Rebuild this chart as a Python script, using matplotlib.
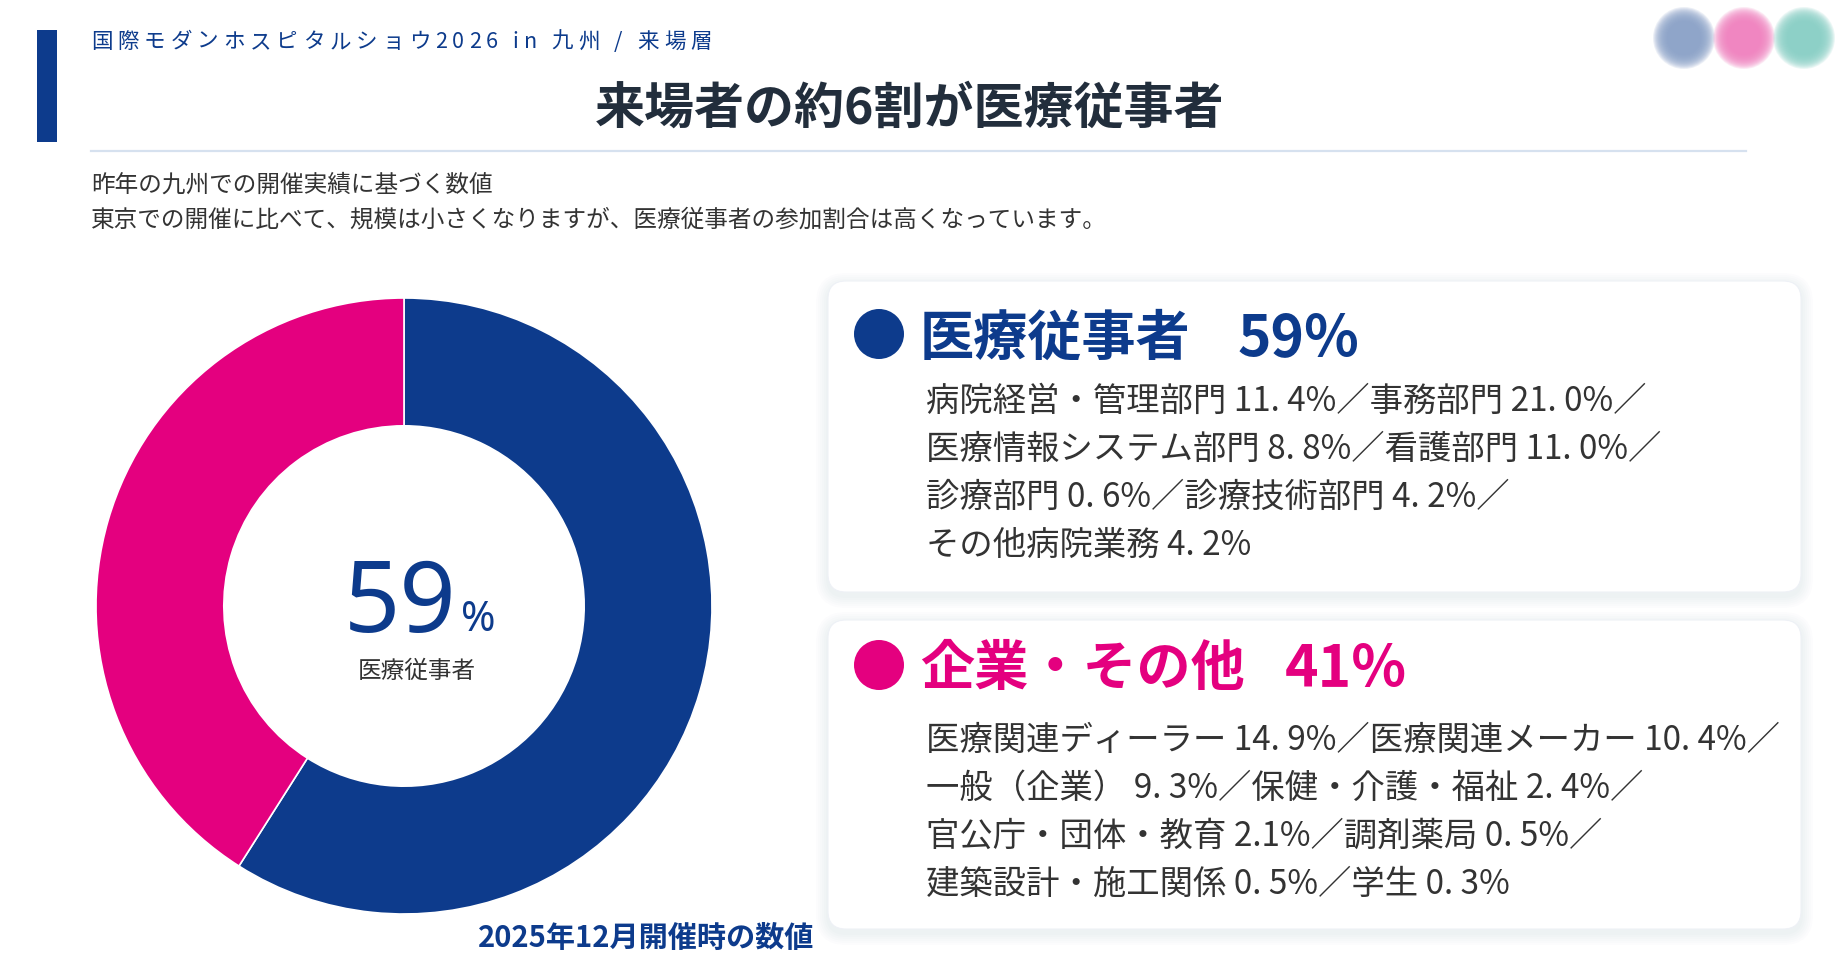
import matplotlib
matplotlib.use("Agg")
import matplotlib.pyplot as plt
from matplotlib.patches import FancyBboxPatch, Rectangle, Circle

plt.rcParams["font.family"] = ["Noto Sans CJK JP", "DejaVu Sans"]

NAVY = "#0d3b8c"
PINK = "#e4007f"
DARK = "#333333"

SUBTITLE = "国際モダンホスピタルショウ2026 in 九州 / 来場層"
TITLE = "来場者の約6割が医療従事者"
INTRO_LINES = [
    "昨年の九州での開催実績に基づく数値",
    "東京での開催に比べて、規模は小さくなりますが、医療従事者の参加割合は高くなっています。",
]
FOOTNOTE = "2025年12月開催時の数値"

SHARE_LABELS = ["医療従事者", "企業・その他"]
SHARE_VALUES = [59, 41]
SHARE_COLORS = [NAVY, PINK]

MEDICAL_LINES = [
    "病院経営・管理部門 11. 4%／事務部門 21. 0%／",
    "医療情報システム部門 8. 8%／看護部門 11. 0%／",
    "診療部門 0. 6%／診療技術部門 4. 2%／",
    "その他病院業務 4. 2%",
]
OTHER_LINES = [
    "医療関連ディーラー 14. 9%／医療関連メーカー 10. 4%／",
    "一般（企業） 9. 3%／保健・介護・福祉 2. 4%／",
    "官公庁・団体・教育 2.1%／調剤薬局 0. 5%／",
    "建築設計・施工関係 0. 5%／学生 0. 3%",
]
DOT_COLORS = ["#8aa1c8", "#f080bf", "#88d0c6"]

W, H = 1837, 974
fig = plt.figure(figsize=(W / 100, H / 100), dpi=100)
fig.patch.set_facecolor("white")
ax = fig.add_axes([0, 0, 1, 1])
ax.set_xlim(0, W)
ax.set_ylim(H, 0)
ax.axis("off")


def spaced_text(x, y, s, target_width, **kw):
    # draw char by char so the line stretches to the wanted width
    r = fig.canvas.get_renderer()
    widths = []
    for ch in s:
        t = ax.text(0, 0, ch, **kw)
        widths.append(t.get_window_extent(r).width)
        t.remove()
    gap = (target_width - sum(widths)) / (len(s) - 1)
    for ch, w in zip(s, widths):
        ax.text(x, y, ch, ha="left", va="center", **kw)
        x += w + gap


# header
ax.add_patch(Rectangle((37, 30), 20, 112, color=NAVY, lw=0))
spaced_text(91, 42, SUBTITLE, 621, fontsize=15.5, color=NAVY)
ax.text(910, 109, TITLE, ha="center", va="center", fontsize=36,
        fontweight="bold", color="#222e3c")
ax.plot([91, 1746], [151, 151], color="#d6e1ef", lw=1.6)
for i, line in enumerate(INTRO_LINES):
    ax.text(91, 185 + i * 35, line, ha="left", va="center", fontsize=17, color=DARK)

# blurred dots top right
for cx, c in zip([1684, 1744, 1804], DOT_COLORS):
    for rad in range(31, 16, -1):
        ax.add_patch(Circle((cx, 38), rad, color=c, alpha=0.16, lw=0))

# donut
ax_d = fig.add_axes([(404 - 308) / W, 1 - (606 + 308) / H, 616 / W, 616 / H])
ax_d.pie(SHARE_VALUES, colors=SHARE_COLORS, startangle=90, counterclock=False,
         wedgeprops=dict(width=0.415, edgecolor="white", linewidth=1.2))
ax_d.set_xlim(-1, 1)
ax_d.set_ylim(-1, 1)
ax_d.axis("off")

ax.text(457, 632, f"{SHARE_VALUES[0]}", ha="right", va="baseline", fontsize=71,
        fontweight="medium", color=NAVY, family=["Noto Sans", "DejaVu Sans"])
ax.text(461, 631, "%", ha="left", va="baseline", fontsize=30, fontweight="bold",
        color=NAVY, family=["Noto Sans", "DejaVu Sans"])
ax.text(417, 671, SHARE_LABELS[0], ha="center", va="center", fontsize=17, color=DARK)
ax.text(814, 938, FOOTNOTE, ha="right", va="center", fontsize=21,
        fontweight="bold", color=NAVY)


# cards
def card(y0, y1, hy, color, label, value, lines, pct_x):
    x0, x1, rad = 828, 1801, 18
    for i in range(1, 7):
        ax.add_patch(FancyBboxPatch((x0 + rad, y0 + rad + 4), x1 - x0 - 2 * rad,
                                    y1 - y0 - 2 * rad, boxstyle=f"round,pad={rad + i * 2}",
                                    fc="#3a5280", ec="none", alpha=0.012))
    ax.add_patch(FancyBboxPatch((x0 + rad, y0 + rad), x1 - x0 - 2 * rad, y1 - y0 - 2 * rad,
                                boxstyle=f"round,pad={rad}", fc="white", ec="#eef1f6", lw=0.8))
    ax.add_patch(Circle((879, hy), 25, color=color, lw=0))
    ax.text(920, hy + 5, label, ha="left", va="center", fontsize=39, fontweight="bold", color=color)
    ax.text(pct_x, hy + 5, f"{value}%", ha="left", va="center", fontsize=41,
            fontweight="bold", color=color)
    for i, line in enumerate(lines):
        ax.text(926, y0 + 120 + i * 48, line, ha="left", va="center", fontsize=24, color=DARK)


card(281, 592, 334, NAVY, SHARE_LABELS[0], SHARE_VALUES[0], MEDICAL_LINES, 1238)
card(620, 929, 665, PINK, SHARE_LABELS[1], SHARE_VALUES[1], OTHER_LINES, 1285)

fig.savefig("out.png", dpi=100, facecolor="white")
